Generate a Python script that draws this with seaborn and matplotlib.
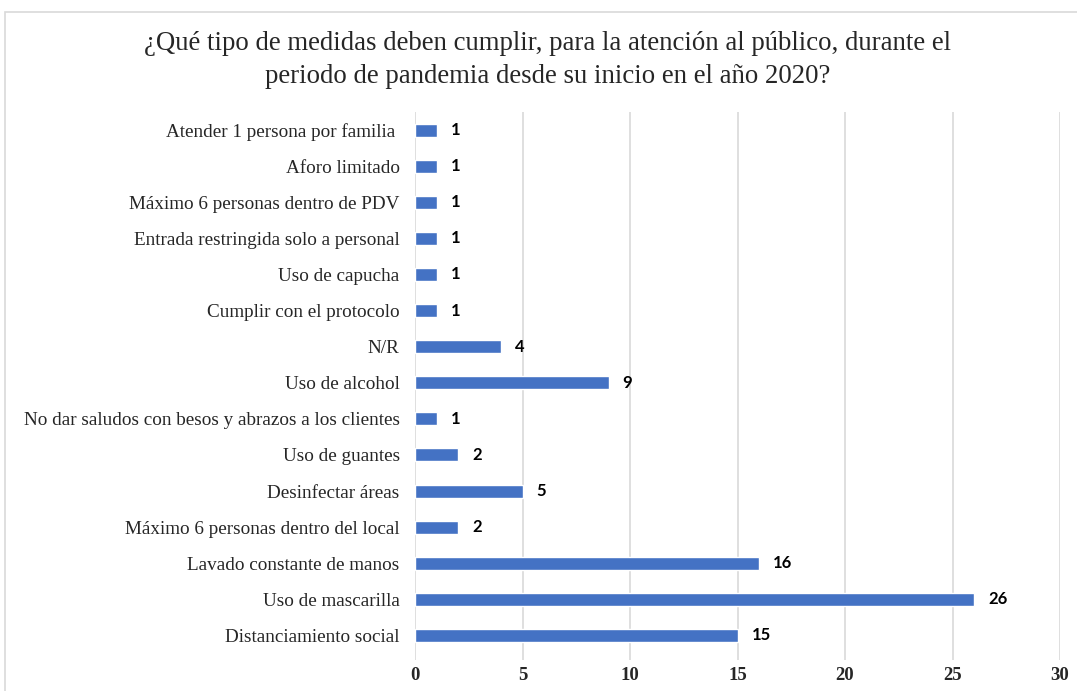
import matplotlib
matplotlib.use("Agg")
import matplotlib.pyplot as plt
import seaborn as sns
import pandas as pd
from matplotlib.patches import Rectangle

categories = [
    "Atender 1 persona por familia ",
    "Aforo limitado",
    "Máximo 6 personas dentro de PDV",
    "Entrada restringida solo a personal",
    "Uso de capucha",
    "Cumplir con el protocolo",
    "N/R",
    "Uso de alcohol",
    "No dar saludos con besos y abrazos a los clientes",
    "Uso de guantes",
    "Desinfectar áreas",
    "Máximo 6 personas dentro del local",
    "Lavado constante de manos",
    "Uso de mascarilla",
    "Distanciamiento social",
]
values = [1, 1, 1, 1, 1, 1, 4, 9, 1, 2, 5, 2, 16, 26, 15]
x_ticks = [0, 5, 10, 15, 20, 25, 30]
title = ("¿Qué tipo de medidas deben cumplir, para la atención al público, durante el\n"
         "periodo de pandemia desde su inicio en el año 2020?")

df = pd.DataFrame({"cat": categories, "val": values})

sns.set_theme(style="white")
plt.rcParams["font.family"] = ["Liberation Serif", "DejaVu Serif"]

fig = plt.figure(figsize=(10.77, 6.91), dpi=100)
ax = fig.add_axes([415 / 1077, 1 - 660 / 691, (1060 - 415) / 1077, (660 - 112) / 691])

sns.barplot(data=df, y="cat", x="val", orient="h", color="#4472C4",
            width=0.36, saturation=1, ax=ax, zorder=3)

ax.set_xlim(0, 30)
ax.set_ylim(len(categories) - 0.32, -0.5)
ax.set_xticks(x_ticks)
ax.set_xticklabels([str(t) for t in x_ticks], fontsize=13.5, fontweight="bold",
                   family=["Liberation Serif"])
ax.tick_params(axis="y", labelsize=13.8, length=0, pad=11)
ax.tick_params(axis="x", length=0, pad=5)
ax.set_xlabel("")
ax.set_ylabel("")
ax.grid(axis="x", color="#D9D9D9", linewidth=1.2, zorder=0)
ax.grid(axis="y", visible=False)
for s in ax.spines.values():
    s.set_visible(False)

for cont in ax.containers:
    ax.bar_label(cont, labels=[str(v) for v in values], padding=10,
                 fontsize=12, fontweight="bold", family=["Lato", "DejaVu Sans"],
                 color="#000000")

fig.text(548 / 1077, 1 - 60 / 691, title, ha="center", va="center",
         fontsize=19.3, linespacing=1.38, family=["Liberation Serif"])

fig.patches.append(Rectangle((5 / 1077, -0.05), 1.2, 1 - 12 / 691 + 0.05,
                             transform=fig.transFigure, fill=False,
                             edgecolor="#D9D9D9", linewidth=1.2, zorder=0))

fig.savefig("out.png", dpi=100, facecolor="white")
